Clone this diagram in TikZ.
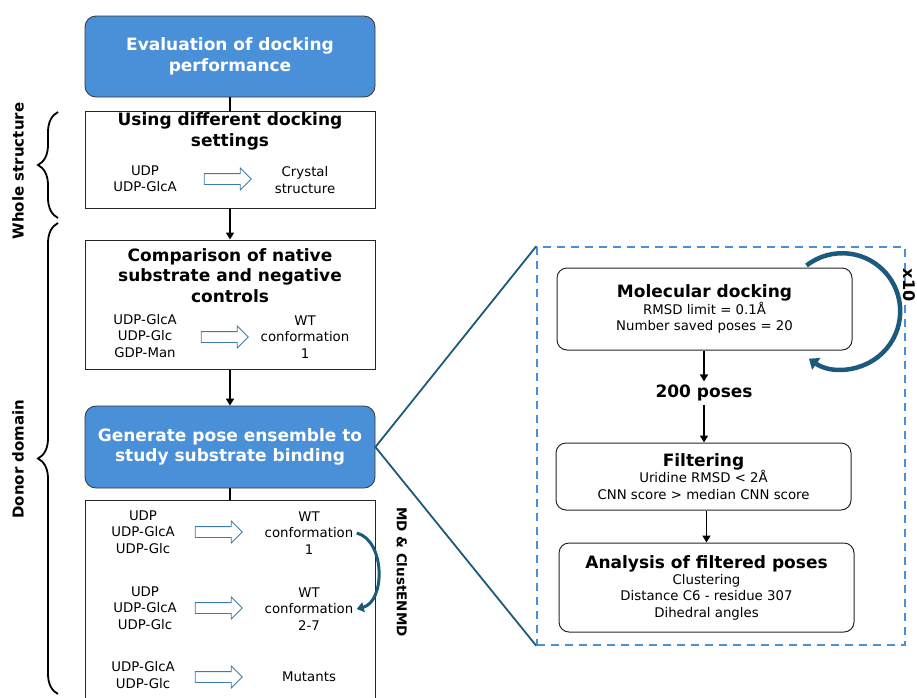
\documentclass[tikz,border=0pt]{standalone}
\usepackage{fontspec}
\setmainfont{DejaVu Sans}
\usetikzlibrary{arrows.meta,shapes.arrows,decorations.pathreplacing}
\definecolor{boxblue}{HTML}{4A90D9}
\definecolor{darkteal}{HTML}{1B5A7A}
\definecolor{arrowteal}{HTML}{3C7DA6}
\newcommand\titlefont{\fontsize{17}{20.5}\selectfont\bfseries}
\newcommand\bodyfont{\fontsize{13.3}{16.3}\selectfont}
\tikzset{
	bluebox/.style={draw=black!80, line width=0.8pt, fill=boxblue, rounded corners=11pt, text=white, font=\titlefont, align=center, minimum width=290pt},
	stagebox/.style={draw=black!85, line width=1pt, minimum width=290pt},
	stepbox/.style={draw=black!85, line width=1pt, rounded corners=10pt, align=center, minimum width=295pt, font=\bodyfont},
	fatarrow/.style={single arrow, draw=arrowteal, fill=white, line width=0.8pt, minimum height=47pt, minimum width=21pt, single arrow head extend=5.5pt, inner xsep=0pt, inner ysep=5pt},
	item/.style={align=center, font=\bodyfont},
	title/.style={align=center, font=\titlefont},
	flow/.style={line width=1.6pt, -{Triangle[width=8pt,length=7pt]}},
	link/.style={line width=1.6pt},
	side/.style={font=\fontsize{15}{18}\selectfont\bfseries, rotate=90},
	sidebrace/.style={decorate, decoration={brace, amplitude=20pt}, line width=1.8pt},
	bendarrow/.style={darkteal, line width=3pt, -{Triangle[width=10pt,length=7pt]}},
}
\begin{document}
\begin{tikzpicture}[x=1pt, y=1pt]
	%%%%% START %%%%%
	\clip (0,0) rectangle (917,-697);
	
	% left column
	\node[bluebox, minimum height=81pt] (eval) at (230,-56.5) {Evaluation of docking\\performance};
	
	\node[stagebox, minimum height=97pt] (setting) at (230.5,-159.5) {};
	\node[title] (settingt) at (230,-131.5) {Using different docking\\settings};
	\node[item] (set1) at (145,-179) {UDP\\UDP-GlcA};
	\node[fatarrow] (seta) at (225,-179) {};
	\node[item] (set2) at (305,-180) {Crystal\\structure};
	
	\node[stagebox, minimum height=129pt] (comp) at (230,-304.5) {};
	\node[title] (compt) at (230,-275.5) {Comparison of native\\substrate and negative\\controls};
	\node[item] (comp1) at (145,-336) {UDP-GlcA\\UDP-Glc\\GDP-Man};
	\node[fatarrow] (compa) at (222,-337) {};
	\node[item] (comp2) at (305,-337) {WT\\conformation\\1};
	
	\node[bluebox, minimum height=82pt] (gen) at (230,-447) {Generate pose ensemble to\\study substrate binding};
	
	\node[stagebox, minimum height=210pt] (poses) at (230,-605) {};
	\node[item] (wt1l) at (143,-532) {UDP\\UDP-GlcA\\UDP-Glc};
	\node[fatarrow] (wt1a) at (216,-532) {};
	\node[item] (wt1) at (309,-533) {WT\\conformation\\1};
	\node[item] (wt2l) at (145,-608) {UDP\\UDP-GlcA\\UDP-Glc};
	\node[fatarrow] (wt2a) at (216,-608) {};
	\node[item] (wt2) at (309,-609) {WT\\conformation\\2-7};
	\node[item] (mutl) at (143,-675) {UDP-GlcA\\UDP-Glc};
	\node[fatarrow] (muta) at (216,-677) {};
	\node[item] (mut) at (309,-677) {Mutants};
	
	\draw[link] (eval.south) -- (eval.south |- setting.north);
	\draw[flow] (comp.north |- setting.south) -- (comp.north);
	\draw[flow] (comp.south) -- (gen.north);
	\draw[link] (gen.south) -- (poses.north);
	
	\draw[bendarrow] (wt1.east) to[bend left=75] (wt2.east);
	\node[font=\fontsize{13.5}{16}\selectfont\bfseries, rotate=-90] (mdlab) at (402,-572) {MD \& ClustENMD};
	
	% braces
	\draw[sidebrace] (58,-218) -- (58,-112);
	\draw[sidebrace] (58,-694) -- (58,-223);
	\node[side] (whole) at (18,-171) {Whole structure};
	\node[side] (donor) at (18,-459) {Donor domain};
	
	% zoomed part
	\node[draw=boxblue, line width=1.5pt, dash pattern=on 8pt off 6pt, minimum width=368pt, minimum height=398pt] (zoom) at (721,-446) {};
	\draw[darkteal, line width=1.8pt] (gen.east) -- (zoom.north west);
	\draw[darkteal, line width=1.8pt] (gen.east) -- (zoom.south west);
	
	\node[stepbox, minimum height=82pt] (dock) at (704.5,-309) {{\titlefont Molecular docking}\\RMSD limit = 0.1Å\\Number saved poses = 20};
	\node[title] (n200) at (704,-393) {200 poses};
	\node[stepbox, minimum height=67pt] (filt) at (703.5,-476.5) {{\titlefont Filtering}\\Uridine RMSD < 2Å\\CNN score > median CNN score};
	\node[stepbox, minimum height=89pt] (ana) at (706.5,-587.5) {{\titlefont Analysis of filtered poses}\\Clustering\\Distance C6 - residue 307\\Dihedral angles};
	
	\draw[flow] (n200.north |- dock.south) -- (n200.north);
	\draw[flow] (n200.south) -- (n200.south |- filt.north);
	\draw[flow] (ana.north |- filt.south) -- (ana.north);
	
	\draw[bendarrow, line width=4.5pt, -{Triangle[width=14pt,length=9pt]}] ([xshift=-46pt,yshift=2pt]dock.north east) arc (128:-125:58);
	\node[font=\fontsize{16}{18}\selectfont\bfseries, rotate=-90] (x10) at (909,-285) {x10};
	%%%%% END %%%%%
\end{tikzpicture}
\end{document}
